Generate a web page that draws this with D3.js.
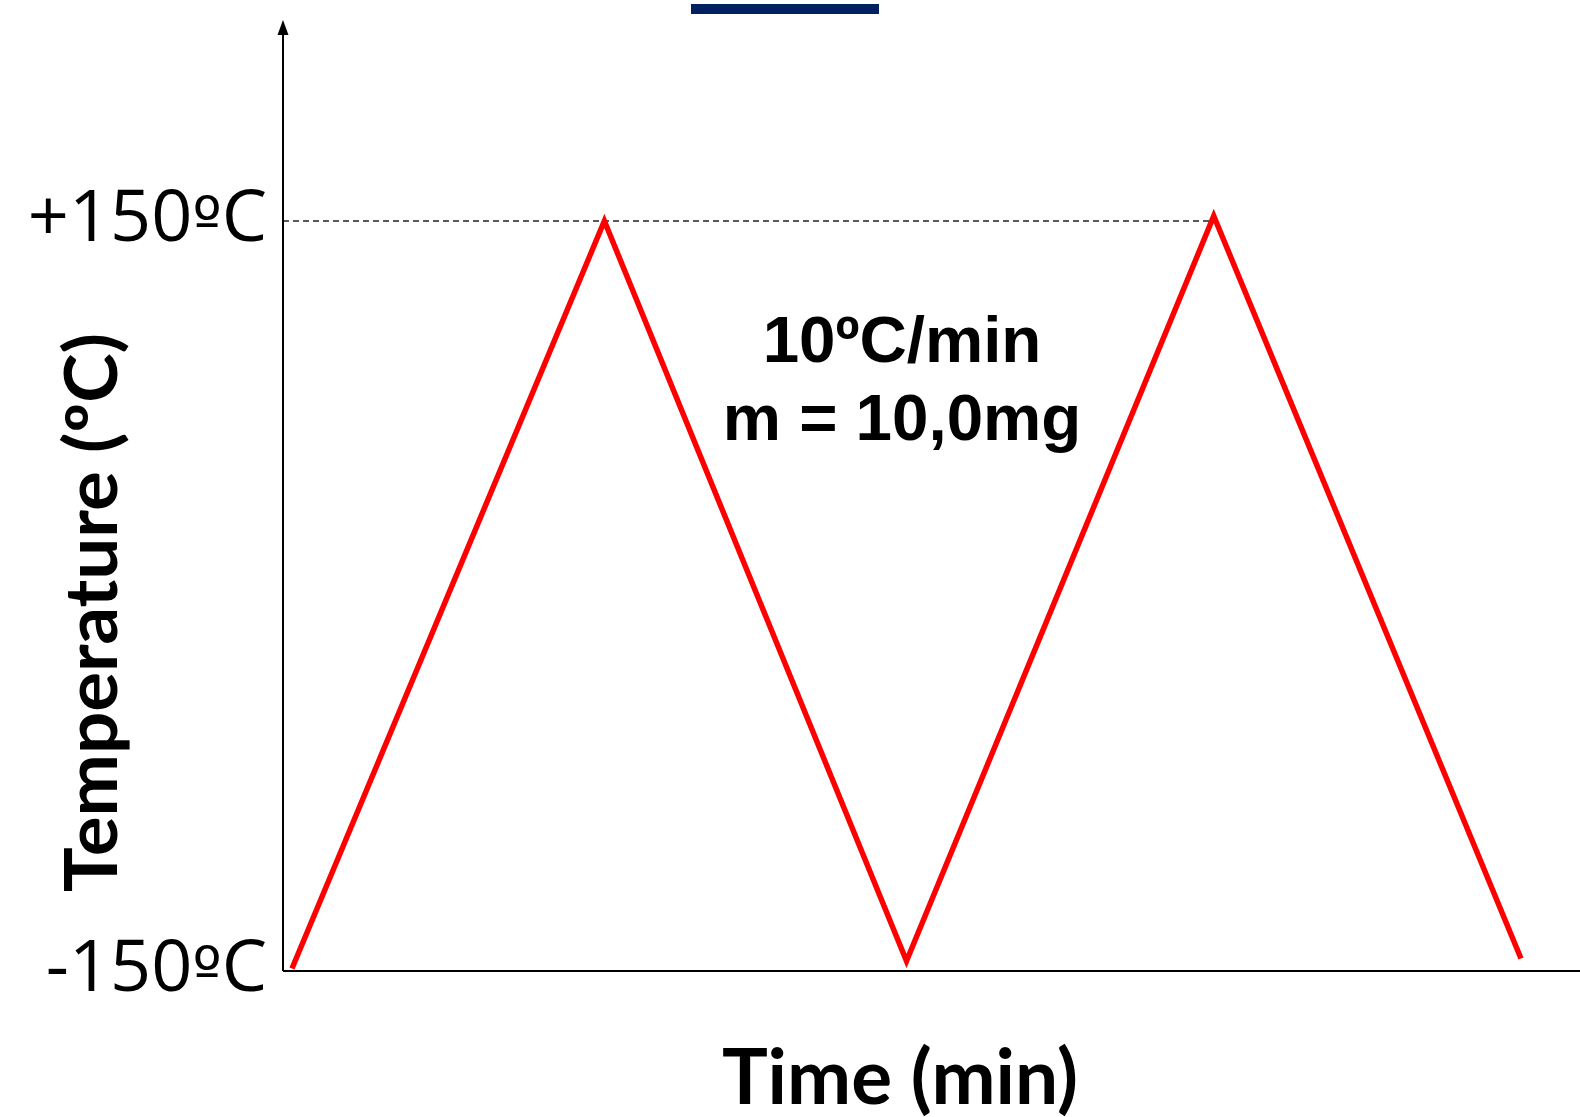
<!DOCTYPE html>
<html>
<head>
<meta charset="utf-8">
<script src="https://cdn.jsdelivr.net/npm/d3@7"></script>
<style>
  html, body { margin: 0; padding: 0; background: #fff; }
  svg { display: block; }
</style>
</head>
<body>
<script>
// Thermal cycle programme: heating / cooling ramps between -150 and +150 ºC
const timeMin = [0, 30.5, 60, 90, 120];
const tempC = [-149, 150, -146, 152, -145];
const tickValues = [-150, 150];
const tickLabels = ["-150ºC", "+150ºC"];
const rateLines = ["10ºC/min", "m = 10,0mg"];
const xTitle = "Time (min)";
const yTitle = "Temperature (ºC)";

const W = 1580, H = 1117;
const svg = d3.select("body").append("svg").attr("width", W).attr("height", H);

const axisX0 = 283, axisTop = 20;
const x = d3.scaleLinear().domain([0, 120]).range([292, 1521]);
const y = d3.scaleLinear().domain([-150, 150]).range([971, 221]);

// header bar
svg.append("rect").attr("x", 691).attr("y", 4).attr("width", 188).attr("height", 10)
  .attr("fill", "#002060");

// +150 ºC reference level
svg.append("line")
  .attr("x1", axisX0).attr("x2", x(90))
  .attr("y1", y(150)).attr("y2", y(150))
  .attr("stroke", "#222").attr("stroke-width", 1.4).attr("stroke-dasharray", "6,4");

// axes
svg.append("line").attr("x1", axisX0).attr("x2", W).attr("y1", y(-150)).attr("y2", y(-150))
  .attr("stroke", "#000").attr("stroke-width", 2.2);
svg.append("line").attr("x1", axisX0).attr("x2", axisX0).attr("y1", y(-150)).attr("y2", axisTop + 12)
  .attr("stroke", "#000").attr("stroke-width", 2);
svg.append("path")
  .attr("d", `M${axisX0},${axisTop} L${axisX0 - 5.5},${axisTop + 15} L${axisX0 + 5.5},${axisTop + 15} Z`)
  .attr("fill", "#000");

// tick labels (the ordinal sign is set in DejaVu Sans so it keeps its underline)
const yAxis = d3.axisLeft(y).tickValues(tickValues)
  .tickFormat((d, i) => tickLabels[i]).tickSize(0).tickPadding(0);
const gy = svg.append("g").attr("transform", `translate(267,0)`).call(yAxis);
gy.select(".domain").remove();
gy.selectAll("text")
  .attr("font-family", "'Open Sans', 'Noto Sans', sans-serif")
  .attr("font-size", 72).attr("fill", "#000")
  .attr("dy", "0.27em")
  .each(function () {
    const t = d3.select(this);
    const parts = t.text().split("º");
    t.text(null);
    parts.forEach((p, k) => {
      if (k > 0) t.append("tspan").attr("font-family", "'DejaVu Sans', sans-serif")
        .attr("font-size", 62).text("º");
      t.append("tspan").text(p);
    });
  });

// temperature programme
const line = d3.line().x(d => x(d[0])).y(d => y(d[1]));
svg.append("path")
  .datum(timeMin.map((t, i) => [t, tempC[i]]))
  .attr("d", line)
  .attr("fill", "none").attr("stroke", "#ff0000").attr("stroke-width", 5.5)
  .attr("stroke-linejoin", "miter").attr("stroke-linecap", "butt");

// conditions annotation
svg.selectAll("text.cond").data(rateLines).enter().append("text")
  .attr("class", "cond")
  .attr("x", 902).attr("y", (d, i) => 362 + i * 78)
  .attr("text-anchor", "middle")
  .attr("font-family", "'Liberation Sans', Arial, sans-serif")
  .attr("font-weight", "bold").attr("font-size", 65.5).attr("fill", "#000")
  .text(d => d);

// axis titles
svg.append("text")
  .attr("x", 722).attr("y", 1104)
  .attr("font-family", "Lato, 'Open Sans', sans-serif")
  .attr("font-weight", "bold").attr("font-size", 76)
  .attr("textLength", 356).attr("lengthAdjust", "spacingAndGlyphs")
  .text(xTitle);

svg.append("text")
  .attr("transform", "translate(117,892) rotate(-90)")
  .attr("font-family", "Lato, 'Open Sans', sans-serif")
  .attr("font-weight", "bold").attr("font-size", 72)
  .attr("textLength", 559).attr("lengthAdjust", "spacingAndGlyphs")
  .text(yTitle);
</script>
</body>
</html>
